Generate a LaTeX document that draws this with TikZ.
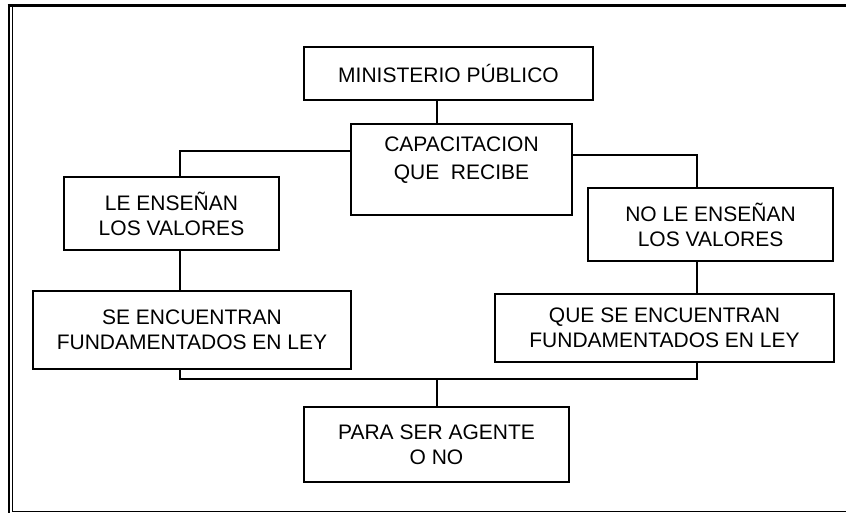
\documentclass[tikz,border=0pt]{standalone}
\usepackage{fontspec}
\setmainfont{Liberation Sans}
\usepackage{tikz}
\usetikzlibrary{positioning,calc}
\tikzset{box/.style={draw,line width=1.4pt,align=center,font=\fontsize{21}{25}\selectfont,inner sep=0pt},conn/.style={line width=1.4pt}}

\begin{document}
\begin{tikzpicture}[x=1pt,y=-1pt]
\useasboundingbox (0,0) rectangle (846,513);
% marco
\draw[line width=3.5pt] (7.5,5.5)--(846,5.5);
\draw[line width=2.5pt] (9,4)--(9,513);
\draw[line width=1pt] (12.5,7)--(12.5,511.5)--(846,511.5);
% cajas
\node[box,minimum width=289pt,minimum height=53pt] (mp) at (448.5,73.5) {MINISTERIO PÚBLICO};
\node[box,minimum width=221pt,minimum height=91pt,text depth=22pt] (cap) at (461.5,169.5) {CAPACITACION\\[3pt]QUE\ \ RECIBE};
\node[box,minimum width=215pt,minimum height=73pt] (le) at (171.5,213.5) {LE ENSEÑAN\\LOS VALORES};
\node[box,minimum width=245pt,minimum height=73pt] (nole) at (710.5,224.5) {NO LE ENSEÑAN\\LOS VALORES};
\node[box,minimum width=318pt,minimum height=78pt] (se) at (192,330) {SE ENCUENTRAN\\FUNDAMENTADOS EN LEY};
\node[box,minimum width=339pt,minimum height=68pt] (quese) at (664.5,328) {QUE SE ENCUENTRAN\\FUNDAMENTADOS EN LEY};
\node[box,minimum width=265pt,minimum height=75pt] (para) at (436.5,444.5) {PARA SER AGENTE\\O NO};
% conectores
\coordinate (mx) at (437,0);
\coordinate (lx) at (180,151);
\coordinate (rx) at (697,155);
\coordinate (bl) at (180,379);
\coordinate (br) at (697,379);
\coordinate (bm) at (437,379);
\draw[conn] (mp.south -| mx)--(cap.north -| mx);
\draw[conn] (cap.west |- lx)--(lx)--(le.north -| lx);
\draw[conn] (cap.east |- rx)--(rx)--(nole.north -| rx);
\draw[conn] (le.south -| lx)--(se.north -| lx);
\draw[conn] (nole.south -| rx)--(quese.north -| rx);
\draw[conn] (se.south -| bl)--(bl)--(br)--(quese.south -| br);
\draw[conn] (bm)--(para.north -| bm);
\end{tikzpicture}
\end{document}
